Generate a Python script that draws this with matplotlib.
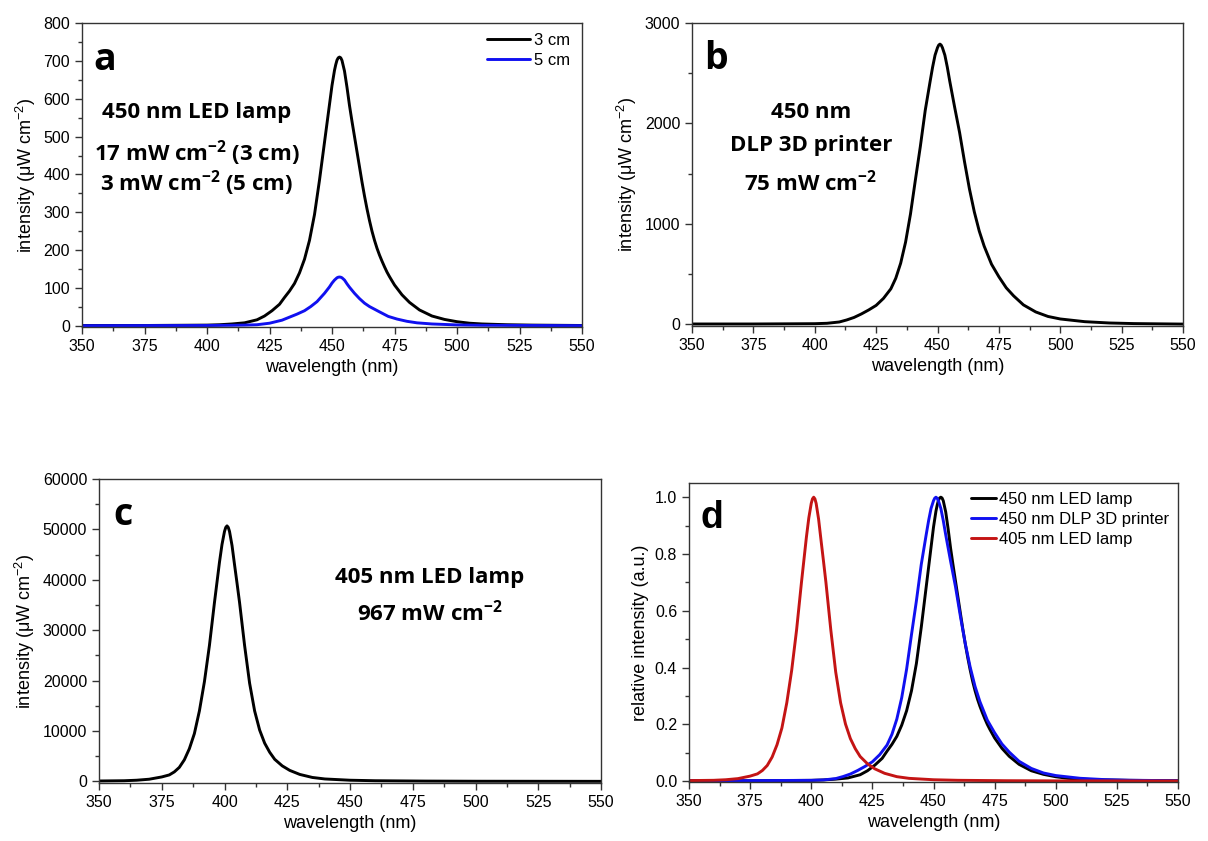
import numpy as np
import matplotlib.pyplot as plt
from matplotlib.ticker import MultipleLocator, FormatStrFormatter

W, H = 1208, 841

plt.rcParams['font.family'] = ['Liberation Sans', 'DejaVu Sans']
plt.rcParams['mathtext.fontset'] = 'custom'
plt.rcParams['mathtext.rm'] = 'Liberation Sans'
plt.rcParams['mathtext.it'] = 'Liberation Sans:italic'
plt.rcParams['mathtext.bf'] = 'Open Sans:bold'

# ---- data ----
# (a) 450 nm LED lamp, 3 cm distance
wl_a3 = [350, 375, 400, 405, 410, 415, 420, 423, 426, 429, 431, 433, 435, 437, 439,
         441, 443, 445, 447, 448, 449, 450, 451, 451.5, 452, 452.5, 453, 453.5, 454, 455,
         456, 457, 458, 459, 460, 461, 462, 463, 464, 465, 466, 467, 468, 469, 470,
         471, 472, 473, 475, 478, 481, 485, 490, 495, 500, 505, 510, 520, 530, 550]
led_3cm = [1, 1, 2, 3, 5, 8, 16, 26, 40, 57, 75, 92, 112, 140, 176,
           226, 294, 385, 485, 535, 585, 635, 675, 690, 702, 708, 710, 708, 701, 673,
           630, 582, 540, 500, 460, 420, 380, 343, 309, 278, 250, 226, 205, 187, 171,
           156, 142, 130, 108, 82, 62, 42, 26, 17, 11, 7, 5, 3, 2, 1]

# (a) 450 nm LED lamp, 5 cm distance
wl_a5 = [350, 400, 410, 415, 420, 425, 430, 433, 436, 439, 441.5, 444, 447, 449, 450,
         451, 452, 452.5, 453, 453.5, 454, 455, 456, 457, 458, 459, 461, 463, 465, 467,
         469, 472.5, 476, 480, 484, 490, 500, 510, 530, 550]
led_5cm = [0.5, 1, 1.5, 2, 3, 7, 15, 23, 31, 40, 51, 64, 86, 103, 113,
           121, 127, 128.5, 129, 128.5, 127, 121, 111, 102, 94, 86, 72, 60, 51, 44,
           37, 25, 18, 12, 8, 5, 2.5, 1.5, 1, 0.5]

# (b) 450 nm DLP 3D printer
wl_b = [350, 375, 400, 405, 410, 413, 416, 419, 422, 425, 428, 431, 433, 435, 437,
        439, 441, 443, 445, 447, 448, 449, 450, 450.5, 451, 451.5, 452, 453, 454, 455,
        457, 459, 461, 463, 465, 467, 469, 472, 475, 478, 481, 485, 490, 495, 500,
        510, 520, 530, 550]
dlp = [5, 5, 8, 12, 25, 45, 70, 105, 145, 190, 260, 355, 460, 610, 820,
       1100, 1440, 1770, 2130, 2420, 2560, 2680, 2755, 2780, 2790, 2780, 2755, 2680, 2560, 2420,
       2160, 1910, 1620, 1350, 1120, 930, 780, 600, 475, 365, 285, 195, 125, 80, 55,
       28, 15, 9, 4]

# (c) 405 nm LED lamp
wl_c = [350, 360, 365, 370, 375, 378, 380, 382, 384, 386, 388, 390, 392, 394, 396,
        398, 399, 400, 400.5, 401, 401.5, 402, 403, 404, 405, 406, 408, 410, 412, 414,
        416, 418, 420, 423, 426, 430, 435, 440, 450, 460, 480, 500, 550]
led405 = [100, 150, 250, 450, 900, 1300, 1900, 2800, 4300, 6500, 9500, 14000, 19800, 27000, 35500,
          43500, 47000, 49600, 50400, 50700, 50400, 49600, 46800, 43000, 39300, 35500, 27000, 19500, 14000, 10200,
          7600, 5800, 4400, 3100, 2200, 1400, 800, 500, 250, 150, 80, 50, 30]

x_ticks = [350, 375, 400, 425, 450, 475, 500, 525, 550]

fig = plt.figure(figsize=(W / 100, H / 100), dpi=100)


def add_axes(l, t, r, b):
    return fig.add_axes([l / W, 1 - b / H, (r - l) / W, (b - t) / H])


def ftext(x, y, s, **kw):
    fig.text(x / W, 1 - y / H, s, **kw)


def style(ax, ymajor, yminor):
    ax.set_xlim(350, 550)
    ax.set_xticks(x_ticks)
    ax.xaxis.set_minor_locator(MultipleLocator(12.5))
    ax.yaxis.set_major_locator(MultipleLocator(ymajor))
    ax.yaxis.set_minor_locator(MultipleLocator(yminor))
    ax.tick_params(which='major', direction='out', length=5, width=1, labelsize=11.5, color='#333333')
    ax.tick_params(which='minor', direction='out', length=3, width=1, color='#333333')
    for s in ax.spines.values():
        s.set_linewidth(1.0)
        s.set_color('#333333')
    ax.set_xlabel('wavelength (nm)', fontsize=13)


line = dict(lw=2.1, solid_joinstyle='round', solid_capstyle='round')
ylab = r'intensity ($\mathrm{\mu}$W cm$^{-2}$)'
big = dict(fontfamily='Open Sans', fontweight='bold', ha='center', va='center', fontsize=16)
letter = dict(fontfamily='Open Sans', fontweight='bold', ha='left', va='baseline', fontsize=27)

# panel a
ax = add_axes(82, 23, 582, 327)
ax.plot(wl_a3, led_3cm, color='black', label='3 cm', **line)
ax.plot(wl_a5, led_5cm, color='#1010f0', label='5 cm', **line)
ax.set_ylim(-3, 800)
style(ax, 100, 50)
ax.set_ylabel(ylab, fontsize=13)
ax.legend(loc='upper left', bbox_to_anchor=(487 / W, 1 - 33 / H), bbox_transform=fig.transFigure,
          frameon=False, fontsize=12, handlelength=2.6, handletextpad=0.2, labelspacing=0.3,
          borderpad=0, borderaxespad=0)
ftext(93, 70, 'a', **letter)
ftext(197, 113, '450 nm LED lamp', **big)
ftext(197, 153, r'17 mW cm$^{\mathbf{-2}}$ (3 cm)', **big)
ftext(197, 183, r'3 mW cm$^{\mathbf{-2}}$ (5 cm)', **big)

# panel b
ax = add_axes(692, 23, 1183, 326)
ax.plot(wl_b, dlp, color='black', **line)
ax.set_ylim(-15, 3000)
style(ax, 1000, 500)
ax.set_ylabel(ylab, fontsize=13)
ftext(704, 69, 'b', **letter)
ftext(811, 113, '450 nm', **big)
ftext(811, 145, 'DLP 3D printer', **big)
ftext(811, 183, r'75 mW cm$^{\mathbf{-2}}$', **big)

# panel c
ax = add_axes(99, 479, 601, 783)
ax.plot(wl_c, led405, color='black', **line)
ax.set_ylim(-300, 60000)
style(ax, 10000, 5000)
ax.set_ylabel(ylab, fontsize=13)
ftext(113, 525, 'c', **letter)
ftext(430, 578, '405 nm LED lamp', **big)
ftext(430, 613, r'967 mW cm$^{\mathbf{-2}}$', **big)

# panel d: each spectrum normalised to its own maximum
ax = add_axes(689, 483, 1178, 782)
ax.plot(wl_a3, np.array(led_3cm) / max(led_3cm), color='black', label='450 nm LED lamp', **line)
ax.plot(wl_b, np.array(dlp) / max(dlp), color='#1010f0', label='450 nm DLP 3D printer', **line)
ax.plot(wl_c, np.array(led405) / max(led405), color='#c41414', label='405 nm LED lamp', **line)
ax.set_ylim(-0.003, 1.05)
style(ax, 0.2, 0.1)
ax.yaxis.set_major_formatter(FormatStrFormatter('%.1f'))
ax.set_ylabel('relative intensity (a.u.)', fontsize=13)
ax.legend(loc='upper left', bbox_to_anchor=(971 / W, 1 - 492 / H), bbox_transform=fig.transFigure,
          frameon=False, fontsize=12, handlelength=1.5, handletextpad=0.2, labelspacing=0.3,
          borderpad=0, borderaxespad=0)
ftext(700, 528, 'd', fontfamily='Liberation Sans', fontweight='bold', ha='left', va='baseline', fontsize=27)

fig.savefig('out.png', dpi=100)
